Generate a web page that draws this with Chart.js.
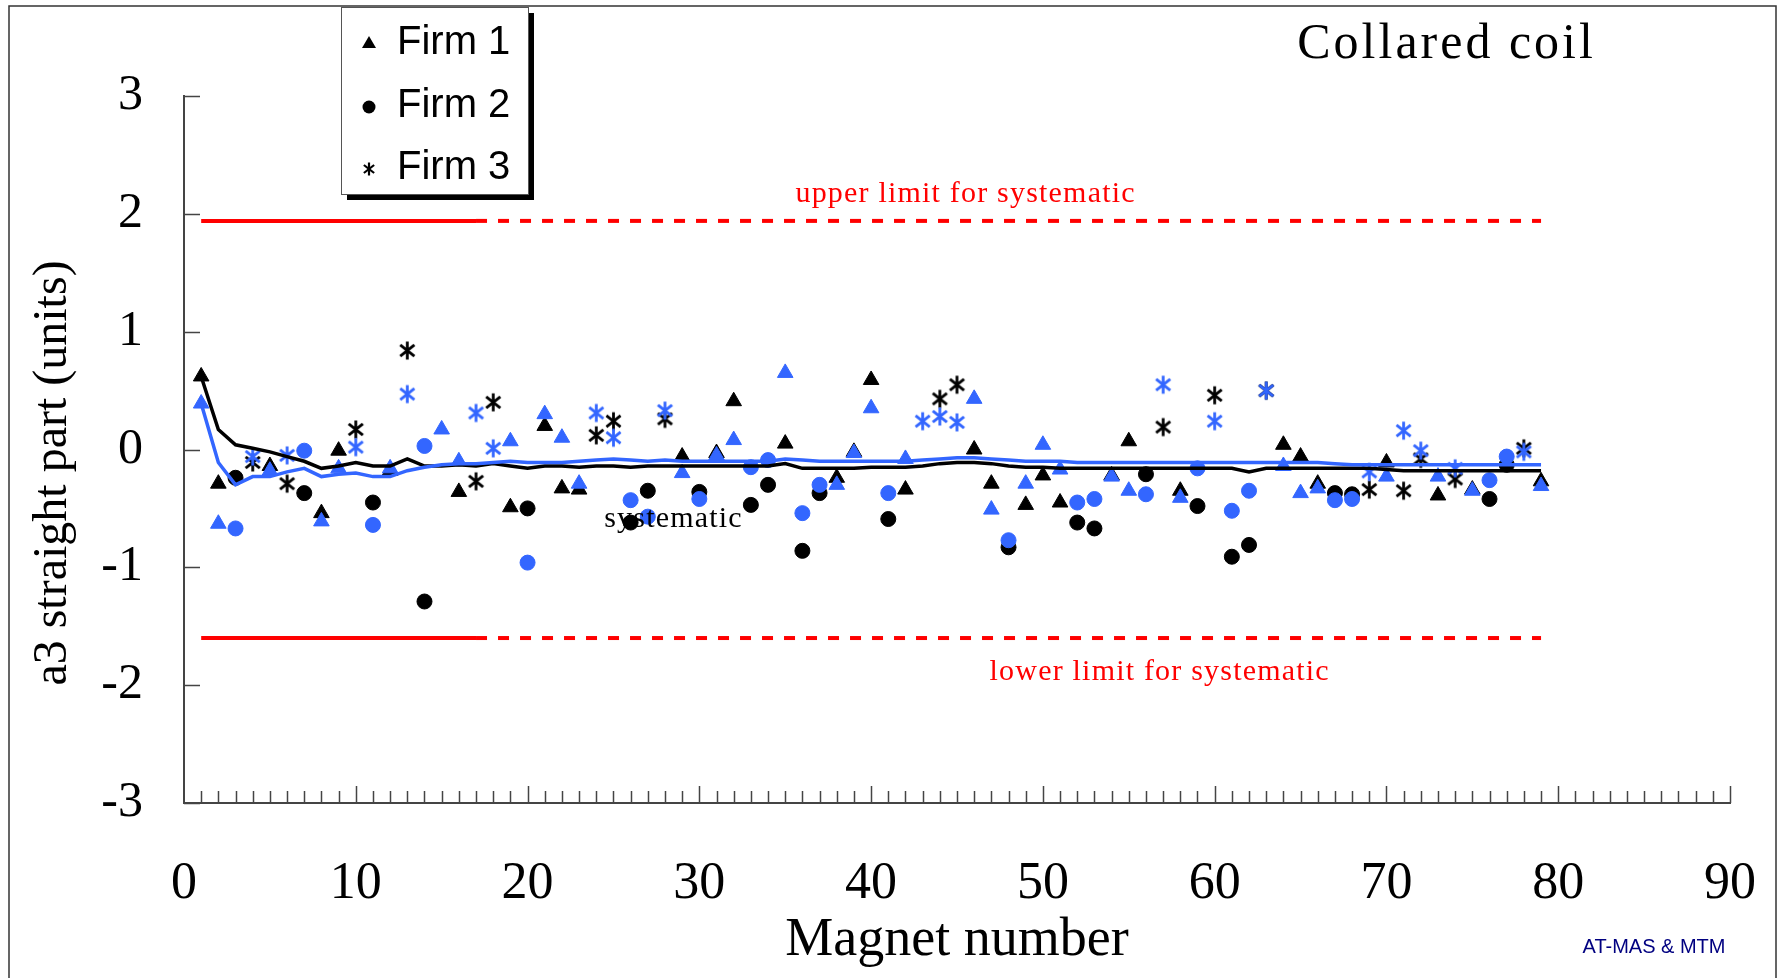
<!DOCTYPE html>
<html>
<head>
<meta charset="utf-8">
<script src="https://cdn.jsdelivr.net/npm/chart.js@4.4.1/dist/chart.umd.min.js"></script>
<style>
html, body { margin: 0; padding: 0; background: #fff; }
#wrap { width: 1782px; height: 978px; }
</style>
</head>
<body>
<div id="wrap"><canvas id="myChart" width="1782" height="978"></canvas></div>
<script>
// magnet numbers of each firm, and a3 values (black = first set, blue = second set)
const firm1Magnets = [1,2,5,8,9,12,15,16,19,21,22,23,29,31,32,35,38,39,40,42,46,47,49,50,51,54,55,58,64,65,66,70,73,75,79];
const firm1Black = [0.62,-0.29,-0.14,-0.54,-0.01,-0.18,null,-0.36,-0.49,0.20,-0.33,-0.34,-0.06,-0.03,0.41,0.05,-0.24,-0.02,0.59,-0.34,0.00,-0.29,-0.47,-0.22,-0.45,-0.22,0.07,-0.35,0.04,-0.06,-0.29,-0.11,-0.39,-0.34,-0.27];
const firm1Blue = [0.39,-0.63,-0.18,-0.61,-0.16,-0.16,0.17,-0.10,0.07,0.30,0.10,-0.29,-0.20,-0.05,0.08,0.65,-0.30,-0.03,0.35,-0.08,0.43,-0.51,-0.29,0.04,-0.17,-0.23,-0.35,-0.41,-0.14,-0.37,-0.33,-0.23,-0.23,-0.35,-0.31];

const firm2Magnets = [3,7,11,14,20,26,27,30,33,34,36,37,41,48,52,53,56,59,61,62,67,68,76,77];
const firm2Black = [-0.24,-0.37,-0.45,-1.29,-0.50,-0.62,-0.35,-0.36,-0.47,-0.30,-0.86,-0.37,-0.59,-0.83,-0.62,-0.67,-0.21,-0.48,-0.91,-0.81,-0.37,-0.38,-0.42,-0.13];
const firm2Blue = [-0.67,-0.01,-0.64,0.03,-0.96,-0.43,-0.57,-0.42,-0.15,-0.09,-0.54,-0.30,-0.37,-0.77,-0.45,-0.42,-0.38,-0.16,-0.52,-0.35,-0.43,-0.42,-0.26,-0.06];

const firm3Magnets = [4,6,10,13,17,18,24,25,28,43,44,45,57,60,63,69,71,72,74,78];
const firm3Black = [-0.11,-0.29,0.17,0.84,-0.27,0.40,0.12,0.24,0.26,null,0.43,0.55,0.19,0.46,0.50,-0.34,-0.35,-0.08,-0.25,0.01];
const firm3Blue = [-0.06,-0.05,0.02,0.47,0.31,0.01,0.31,0.10,0.33,0.24,0.28,0.23,0.55,0.24,0.50,-0.19,0.16,-0.01,-0.16,-0.02];

// running systematic
const magnet = [1,2,3,4,5,6,7,8,9,10,11,12,13,14,15,16,17,18,19,20,21,22,23,24,25,26,27,28,29,30,31,32,33,34,35,36,37,38,39,40,41,42,43,44,45,46,47,48,49,50,51,52,53,54,55,56,57,58,59,60,61,62,63,64,65,66,67,68,69,70,71,72,73,74,75,76,77,78,79];
const sysBlack = [0.62,0.17,0.04,0.01,-0.02,-0.06,-0.10,-0.16,-0.14,-0.11,
	-0.14,-0.14,-0.08,-0.14,-0.14,-0.13,-0.14,-0.12,-0.14,-0.16,
	-0.14,-0.14,-0.15,-0.14,-0.14,-0.15,-0.14,-0.14,-0.14,-0.14,
	-0.14,-0.14,-0.14,-0.14,-0.12,-0.16,-0.16,-0.16,-0.16,-0.15,
	-0.15,-0.15,-0.14,-0.12,-0.11,-0.11,-0.12,-0.14,-0.15,-0.15,
	-0.16,-0.16,-0.16,-0.16,-0.16,-0.16,-0.16,-0.16,-0.16,-0.16,
	-0.16,-0.19,-0.16,-0.16,-0.16,-0.16,-0.16,-0.16,-0.16,-0.17,
	-0.18,-0.18,-0.18,-0.18,-0.18,-0.18,-0.18,-0.18,-0.18];
const sysBlue = [0.39,-0.11,-0.30,-0.23,-0.23,-0.19,-0.16,-0.23,-0.21,-0.20,
	-0.23,-0.23,-0.18,-0.15,-0.13,-0.12,-0.12,-0.11,-0.10,-0.11,
	-0.11,-0.11,-0.10,-0.09,-0.08,-0.09,-0.10,-0.09,-0.10,-0.10,
	-0.10,-0.10,-0.10,-0.10,-0.08,-0.09,-0.10,-0.10,-0.10,-0.10,
	-0.10,-0.10,-0.09,-0.08,-0.07,-0.07,-0.08,-0.09,-0.10,-0.10,
	-0.10,-0.11,-0.11,-0.11,-0.11,-0.11,-0.11,-0.11,-0.11,-0.11,
	-0.11,-0.11,-0.11,-0.11,-0.11,-0.11,-0.12,-0.13,-0.13,-0.13,
	-0.13,-0.13,-0.13,-0.13,-0.13,-0.13,-0.13,-0.13,-0.13];

// limits for systematic
const upperLimit = 1.94;
const lowerLimit = -1.60;
const limitFrom = 1, limitSplit = 17, limitTo = 79;

const serif = '"Liberation Serif", "Times New Roman", serif';
const sans = '"Liberation Sans", Arial, sans-serif';
const BLUE = '#3366ff';

function asterisk(color, size, lw) {
	const c = document.createElement('canvas');
	c.width = size;
	c.height = size;
	const g = c.getContext('2d');
	g.strokeStyle = color;
	g.lineWidth = lw;
	g.translate(size / 2, size / 2);
	const r = size / 2 - 1.5;
	for (const a of [90, 38, 142]) {
		const t = a * Math.PI / 180;
		g.beginPath();
		g.moveTo(-Math.cos(t) * r, -Math.sin(t) * r);
		g.lineTo(Math.cos(t) * r, Math.sin(t) * r);
		g.stroke();
	}
	return c;
}
const astBlack = asterisk('#000', 21, 2.8);
const astBlue = asterisk(BLUE, 21, 2.8);
const astSmall = asterisk('#000', 16, 2.2);

function pts(xs, ys) {
	return xs.map((m, i) => ({x: m, y: ys[i]}));
}

function marks(label, xs, ys, style, color, r, order) {
	return {
		label: label,
		data: pts(xs, ys),
		pointStyle: style,
		pointRadius: r,
		backgroundColor: color,
		borderColor: color,
		borderWidth: 1,
		showLine: false,
		order: order
	};
}

function limit(yv, x0, x1, dash) {
	return {
		data: [{x: x0, y: yv}, {x: x1, y: yv}],
		showLine: true,
		borderColor: '#ff0000',
		borderWidth: 4,
		borderDash: dash,
		pointRadius: 0,
		order: 5
	};
}

// label padding of the scales must not shrink the plot area
function noEdgePadding(s) {
	s.paddingLeft = 0;
	s.paddingRight = 0;
	s.paddingTop = 0;
	s.paddingBottom = 0;
}

const decor = {
	id: 'decor',
	beforeDraw(chart) {
		const ctx = chart.ctx;
		ctx.save();
		ctx.fillStyle = '#fff';
		ctx.fillRect(0, 0, chart.width, chart.height);
		ctx.restore();
	},
	afterDraw(chart) {
		const {ctx, scales: {x, y}} = chart;
		ctx.save();

		// frame
		ctx.strokeStyle = '#333';
		ctx.lineWidth = 1.5;
		ctx.beginPath();
		ctx.moveTo(9, chart.height);
		ctx.lineTo(9, 6);
		ctx.lineTo(1776, 6);
		ctx.lineTo(1776, chart.height);
		ctx.stroke();

		// ticks pointing into the plot
		ctx.strokeStyle = '#444';
		ctx.lineWidth = 1.5;
		ctx.beginPath();
		y.ticks.forEach(t => {
			const py = Math.round(y.getPixelForValue(t.value)) + 0.5;
			ctx.moveTo(x.left, py);
			ctx.lineTo(x.left + 16, py);
		});
		x.ticks.forEach(t => {
			if (t.value === 0) return;
			const px = Math.round(x.getPixelForValue(t.value)) + 0.5;
			const len = t.value % 10 === 0 ? 17 : 12;
			ctx.moveTo(px, y.bottom);
			ctx.lineTo(px, y.bottom - len);
		});
		ctx.stroke();

		// y axis title
		ctx.save();
		ctx.translate(53, 473);
		ctx.rotate(-Math.PI / 2);
		ctx.fillStyle = '#000';
		ctx.font = '48px ' + serif;
		ctx.textAlign = 'center';
		ctx.textBaseline = 'middle';
		ctx.fillText('a3 straight part (units)', 0, 0);
		ctx.restore();

		// notes
		ctx.textAlign = 'center';
		ctx.textBaseline = 'middle';
		ctx.font = '30px ' + serif;
		ctx.letterSpacing = '1.2px';
		ctx.fillStyle = '#ff0000';
		ctx.fillText('upper limit for systematic', x.getPixelForValue(45.5), y.getPixelForValue(2.17));
		ctx.fillText('lower limit for systematic', x.getPixelForValue(56.8), y.getPixelForValue(-1.89));
		ctx.fillStyle = '#000';
		ctx.fillText('systematic', x.getPixelForValue(28.5), y.getPixelForValue(-0.59));

		ctx.font = '50px ' + serif;
		ctx.letterSpacing = '3px';
		ctx.fillText('Collared coil', x.getPixelForValue(73.5), y.getPixelForValue(3.43));

		ctx.letterSpacing = '0px';
		ctx.font = '20px ' + sans;
		ctx.fillStyle = '#000080';
		ctx.fillText('AT-MAS & MTM', 1654, 947);

		// legend box with shadow
		ctx.fillStyle = '#000';
		ctx.fillRect(347, 13, 187, 187);
		ctx.fillStyle = '#fff';
		ctx.fillRect(341, 7, 187, 187);
		ctx.strokeStyle = '#555';
		ctx.lineWidth = 1;
		ctx.strokeRect(341.5, 7.5, 187, 187);

		const rows = [43, 106, 168];
		ctx.fillStyle = '#000';
		// triangle
		ctx.beginPath();
		ctx.moveTo(369, rows[0] - 7);
		ctx.lineTo(376, rows[0] + 5);
		ctx.lineTo(362, rows[0] + 5);
		ctx.closePath();
		ctx.fill();
		// circle
		ctx.beginPath();
		ctx.arc(369, rows[1] + 1, 6.5, 0, Math.PI * 2);
		ctx.fill();
		// asterisk
		ctx.drawImage(astSmall, 369 - 8, rows[2] - 7);

		ctx.font = '40px ' + sans;
		ctx.textAlign = 'left';
		ctx.fillText('Firm 1', 397, rows[0]);
		ctx.fillText('Firm 2', 397, rows[1]);
		ctx.fillText('Firm 3', 397, rows[2]);

		ctx.restore();
	}
};

const ctx = document.getElementById('myChart');
const plot = new Chart(ctx, {
	type: 'scatter',
	data: {
		datasets: [
			{
				label: 'systematic (blue)',
				data: pts(magnet, sysBlue),
				showLine: true,
				borderColor: BLUE,
				borderWidth: 3.5,
				pointRadius: 0,
				order: 0
			},
			{
				label: 'systematic',
				data: pts(magnet, sysBlack),
				showLine: true,
				borderColor: '#000',
				borderWidth: 3.5,
				pointRadius: 0,
				order: 1
			},
			marks('Firm 1 (blue)', firm1Magnets, firm1Blue, 'triangle', BLUE, 9, 2),
			marks('Firm 2 (blue)', firm2Magnets, firm2Blue, 'circle', BLUE, 7.5, 2),
			marks('Firm 3 (blue)', firm3Magnets, firm3Blue, astBlue, BLUE, 10, 2),
			marks('Firm 1', firm1Magnets, firm1Black, 'triangle', '#000', 9, 3),
			marks('Firm 2', firm2Magnets, firm2Black, 'circle', '#000', 7.5, 3),
			marks('Firm 3', firm3Magnets, firm3Black, astBlack, '#000', 10, 3),
			limit(upperLimit, limitFrom, limitSplit, []),
			limit(upperLimit, limitSplit, limitTo, [11, 11]),
			limit(lowerLimit, limitFrom, limitSplit, []),
			limit(lowerLimit, limitSplit, limitTo, [11, 11])
		]
	},
	options: {
		responsive: false,
		animation: false,
		events: [],
		layout: {
			padding: {left: 0, top: 96, right: 52, bottom: 0}
		},
		plugins: {
			legend: {display: false},
			tooltip: {enabled: false}
		},
		scales: {
			x: {
				type: 'linear',
				min: 0,
				max: 90,
				grid: {display: false},
				border: {display: true, color: '#444', width: 2},
				ticks: {
					stepSize: 1,
					autoSkip: false,
					maxRotation: 0,
					padding: 42,
					color: '#000',
					font: {family: serif, size: 52},
					callback: v => v % 10 === 0 ? v : ''
				},
				title: {
					display: true,
					text: 'Magnet number',
					color: '#000',
					font: {family: serif, size: 54},
					padding: {top: 0, bottom: 5}
				},
				afterFit: s => { s.height = 175; noEdgePadding(s); }
			},
			y: {
				min: -3,
				max: 3,
				grid: {display: false},
				border: {display: true, color: '#444', width: 2},
				ticks: {
					stepSize: 0.5,
					padding: 33,
					color: '#000',
					font: {family: serif, size: 50},
					callback: v => Number.isInteger(v) ? v : ''
				},
				afterFit: s => { s.width = 184; noEdgePadding(s); }
			}
		}
	},
	plugins: [decor]
});
</script>
</body>
</html>
